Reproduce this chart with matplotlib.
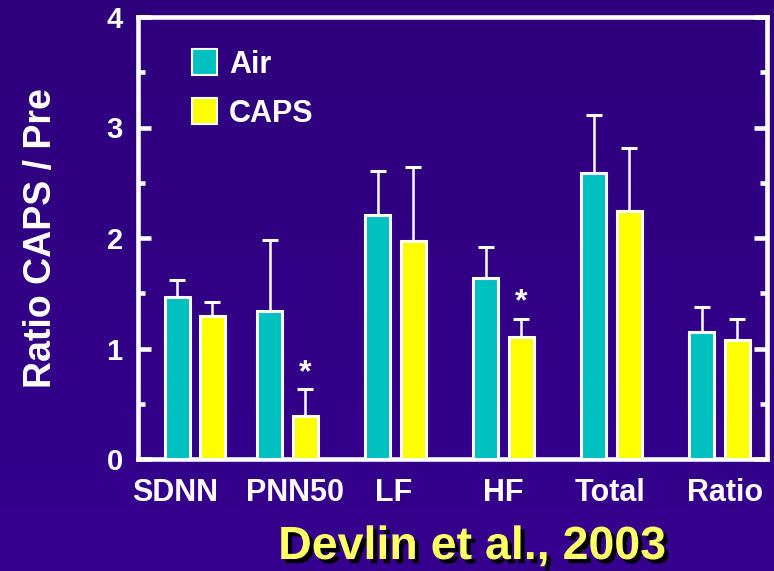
import numpy as np
import matplotlib.pyplot as plt
from matplotlib.patches import Patch
from matplotlib.ticker import MultipleLocator
import matplotlib.patheffects as pe

# HRV measures, ratio of post-exposure to pre-exposure
measures = ["SDNN", "PNN50", "LF", "HF", "Total", "Ratio"]
air_mean = [1.47, 1.34, 2.21, 1.64, 2.59, 1.15]
air_sem = [0.15, 0.64, 0.40, 0.28, 0.52, 0.23]
caps_mean = [1.29, 0.39, 1.97, 1.10, 2.24, 1.08]
caps_sem = [0.13, 0.24, 0.67, 0.17, 0.57, 0.19]
signif = [False, True, False, True, False, False]   # CAPS vs Air

teal = "#00C0C0"
yellow = "#FFFF00"
bg_top = np.array([46, 0, 124]) / 255.0
bg_bot = np.array([53, 0, 142]) / 255.0

plt.rcParams['font.family'] = ['Liberation Sans', 'DejaVu Sans']
plt.rcParams['font.weight'] = 'bold'

fig = plt.figure(figsize=(7.74, 5.71), dpi=100)

# slide background, slight vertical gradient
bg = fig.add_axes([0, 0, 1, 1], zorder=-10)
t = np.linspace(0, 1, 256)[:, None, None]
grad = bg_top * (1 - t) + bg_bot * t
grad = np.repeat(grad, 2, axis=1)
bg.imshow(grad, aspect='auto', extent=[0, 1, 0, 1])
bg.axis('off')

ax = fig.add_axes([138 / 774, 112 / 571, 629 / 774, 442 / 571])
ax.set_facecolor('none')

group_x = np.array([0.14, 1, 2, 3, 4, 5])
label_x = [-0.04, 1.07, 1.98, 3.0, 3.99, 5.05]
off = 0.163
w = 0.232

err_kw = dict(ecolor='white', elinewidth=1.8, capsize=5.5, capthick=2.2)
ax.bar(group_x - off, air_mean, w, color=teal, edgecolor='white', linewidth=2.2,
       yerr=[np.zeros(len(air_sem)), air_sem], error_kw=err_kw, zorder=3)
ax.bar(group_x + off, caps_mean, w, color=yellow, edgecolor='white', linewidth=2.2,
       yerr=[np.zeros(len(caps_sem)), caps_sem], error_kw=err_kw, zorder=3)

for i in range(len(measures)):
    if signif[i]:
        top = caps_mean[i] + caps_sem[i]
        ax.annotate("*", (group_x[i] + off, top), xytext=(0, 1),
                    textcoords='offset points', ha='center', va='bottom',
                    color='white', fontsize=23, fontweight='bold')

ax.set_xlim(-0.385, 5.44)
ax.set_ylim(0, 4)
ax.set_xticks(label_x)
ax.set_xticklabels(measures)
ax.yaxis.set_major_locator(MultipleLocator(1))
ax.yaxis.set_minor_locator(MultipleLocator(0.5))

for s in ax.spines.values():
    s.set_color('white')
    s.set_linewidth(3.3)

ax.tick_params(axis='x', length=0, pad=14, labelsize=22, labelcolor='white')
ax.tick_params(axis='y', which='major', direction='in', length=9.5, width=3.3,
               color='white', labelsize=21, labelcolor='white', pad=11,
               right=True)
ax.tick_params(axis='y', which='minor', direction='in', length=5, width=3.3,
               color='white', right=True)

ax.set_ylabel("Ratio CAPS / Pre", fontsize=27, fontweight='bold',
              color='white', labelpad=34)

handles = [Patch(facecolor=teal, edgecolor='white', linewidth=1.5, label="Air"),
           Patch(facecolor=yellow, edgecolor='white', linewidth=1.5, label="CAPS")]
leg = ax.legend(handles=handles, loc='upper left', bbox_to_anchor=(0.042, 0.99),
                frameon=False, fontsize=22, handlelength=0.82, handleheight=0.95,
                handletextpad=0.4, labelspacing=0.6)
for txt in leg.get_texts():
    txt.set_color('white')

fig.text(0.61, 0.042, "Devlin et al., 2003", ha='center', va='center',
         fontsize=33.5, fontweight='bold', color='#FFFF66',
         path_effects=[pe.withSimplePatchShadow(offset=(3, -3),
                                                shadow_rgbFace='black', alpha=1.0)])

fig.savefig("out.png", dpi=100)
